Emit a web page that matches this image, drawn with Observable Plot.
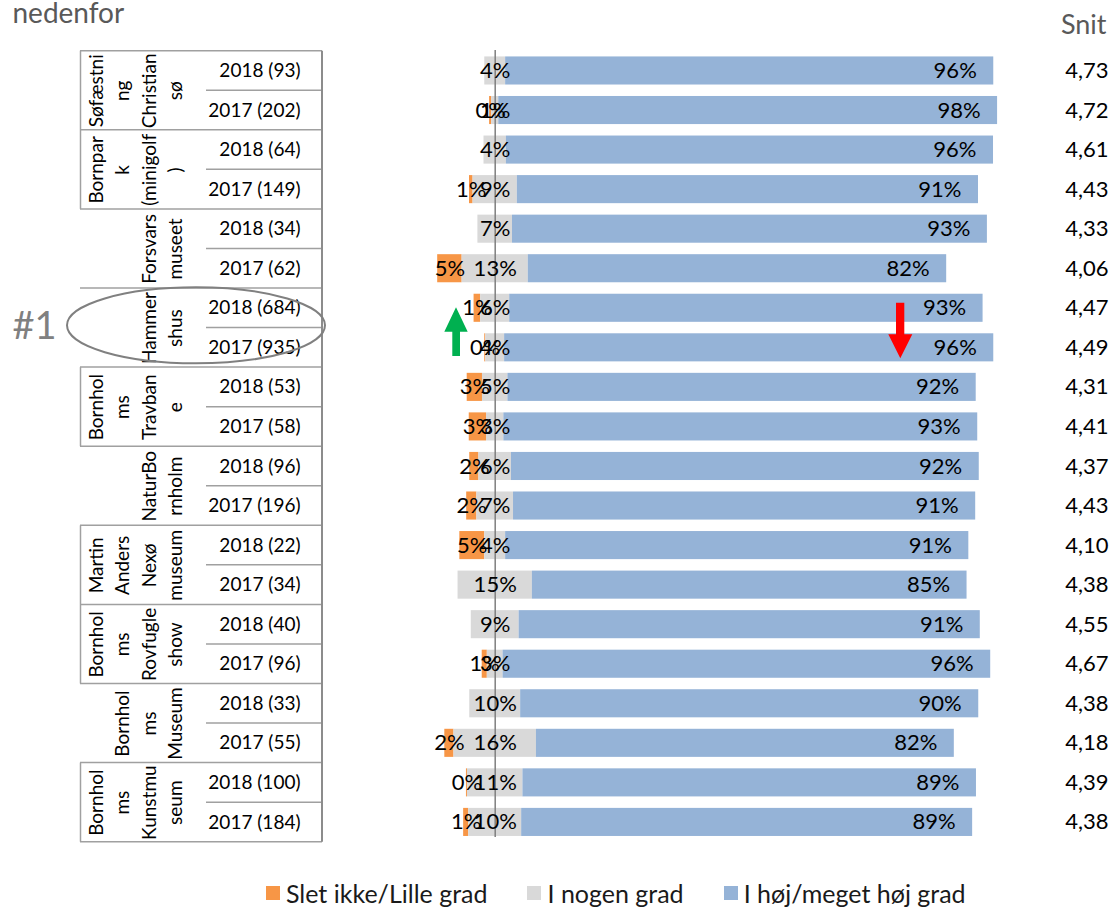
<!DOCTYPE html>
<html><head><meta charset="utf-8">
<script src="https://cdn.jsdelivr.net/npm/d3@7"></script>
<script src="https://cdn.jsdelivr.net/npm/@observablehq/plot@0.6"></script>
<style>
body{margin:0;background:#fff;font-family:Lato,sans-serif;}
#chart{position:relative;width:1114px;height:907px;overflow:hidden;}
#legend{position:absolute;left:266px;top:876px;}
.lg-swatches{font-family:Lato,sans-serif !important;font-size:25px !important;color:#1a1a1a;margin:0 !important;}
.lg-swatch{margin-right:40px !important;}
.lg-swatch > svg{margin-right:6px !important;}
</style></head><body><div id="chart"><div id="legend"></div></div>
<script>
// ---- data ----
const groupLines = [
  ["Søfæstni","ng","Christian","sø"],
  ["Bornpar","k","(minigolf",")"],
  ["Forsvars","museet"],
  ["Hammer","shus"],
  ["Bornhol","ms","Travban","e"],
  ["NaturBo","rnholm"],
  ["Martin","Anders","Nexø","museum"],
  ["Bornhol","ms","Rovfugle","show"],
  ["Bornhol","ms","Museum"],
  ["Bornhol","ms","Kunstmu","seum"]
];
const rowLabels = ["2018 (93)","2017 (202)","2018 (64)","2017 (149)","2018 (34)","2017 (62)","2018 (684)","2017 (935)","2018 (53)","2017 (58)","2018 (96)","2017 (196)","2018 (22)","2017 (34)","2018 (40)","2017 (96)","2018 (33)","2017 (55)","2018 (100)","2017 (184)"];
const slet  = [0, 0.4, 0, 0.7, 0, 4.8, 1.3, 0.2, 3.0, 3.4, 1.8, 2.0, 4.9, 0, 0, 1.0, 0, 1.8, 0.2, 1.0];
const nogen = [4.1, 1.4, 4.4, 8.7, 6.8, 13.0, 5.7, 3.7, 5.0, 3.4, 6.4, 7.2, 4.1, 14.6, 9.4, 3.1, 10.0, 16.2, 10.9, 10.4];
const hoj   = [95.9, 98.0, 95.7, 90.6, 93.3, 82.2, 93.0, 96.1, 92.0, 93.1, 91.9, 90.8, 91.0, 85.4, 90.6, 95.8, 90.0, 82.1, 89.1, 88.6];
const snit  = [4.73, 4.72, 4.61, 4.43, 4.33, 4.06, 4.47, 4.49, 4.31, 4.41, 4.37, 4.43, 4.10, 4.38, 4.55, 4.67, 4.38, 4.18, 4.39, 4.38];
const seriesNames = ["Slet ikke/Lille grad","I nogen grad","I høj/meget høj grad"];
const seriesColors = ["#F79646","#D9D9D9","#95B3D7"];

// ---- build tables ----
const rows = rowLabels.map((d,i)=>String(i));
const segs = [];
rowLabels.forEach((l,i)=>{
  const o = slet[i], g = nogen[i], b = hoj[i];
  segs.push({row: rows[i], s: seriesNames[0], x1: -g/2 - o, x2: -g/2, v: o});
  segs.push({row: rows[i], s: seriesNames[1], x1: -g/2, x2: g/2, v: g});
  segs.push({row: rows[i], s: seriesNames[2], x1: g/2, x2: g/2 + b, v: b});
});
const groupText = [];
groupLines.forEach((gl, gi) => gl.forEach((t, li) => groupText.push({t, row: String(2*gi), off: gl.length - 1 - li})));
const pct = d => Math.round(d.v) + "%";
const k = 5.09, x0 = 494.7;
const step = (841.7 - 50.7) / rows.length;

const plot = Plot.plot({
  width: 1114, height: 868,
  marginLeft: 0, marginRight: 0, marginTop: 50, marginBottom: 31,
  x: {domain: [-20, 100], range: [x0 - 20*k, x0 + 100*k], axis: null},
  y: {type: "band", domain: rows, range: [50.7, 841.7], paddingInner: 0.29, paddingOuter: 0.145, round: false, axis: null},
  color: {domain: seriesNames, range: seriesColors},
  style: {fontFamily: "Lato, sans-serif", fontSize: "22px", color: "#000", background: "#fff"},
  marks: [
    Plot.barX(segs.filter(d => d.v > 0), {x1: "x1", x2: "x2", y: "row", fill: "s"}),
    Plot.ruleX([0], {stroke: "#7f7f7f", strokeWidth: 1.5}),
    Plot.text(segs.filter(d => d.s === seriesNames[0] && d.v > 0), {x: d => (d.x1 + d.x2)/2, y: "row", text: pct, fontSize: 22, fill: "#000"}),
    Plot.text(segs.filter(d => d.s === seriesNames[1]), {x: 0, y: "row", text: pct, fontSize: 22, fill: "#000"}),
    Plot.text(segs.filter(d => d.s === seriesNames[2]), {x: "x2", y: "row", text: pct, fontSize: 22, fill: "#000", textAnchor: "end", dx: -17}),
    Plot.text(rowLabels, {y: (d,i) => rows[i], frameAnchor: "left", dx: 300, textAnchor: "end", fontSize: 19, fill: "#000"}),
    ...[0,1,2,3].map(off => Plot.text(groupText.filter(d => d.off === off), {y: "row", text: "t", dy: step/2, frameAnchor: "left", dx: 175.5 - 26.3*off, rotate: -90, textAnchor: "middle", lineAnchor: "middle", fontSize: 19, fill: "#000"})),
    Plot.text(snit, {y: (d,i) => rows[i], frameAnchor: "right", dx: -6, textAnchor: "end", text: d => d.toFixed(2).replace(".", ","), fontSize: 22, fill: "#000"}),
    Plot.text(["Snit"], {frameAnchor: "top-right", dx: -8, dy: -17, textAnchor: "end", lineAnchor: "bottom", fontSize: 27, fill: "#595959"}),
    Plot.text(["nedenfor"], {frameAnchor: "top-left", dx: 12, dy: -28, textAnchor: "start", lineAnchor: "bottom", fontSize: 28, fill: "#595959"}),
    Plot.text(["#1"], {frameAnchor: "top-left", dx: 12, dy: 288, textAnchor: "start", lineAnchor: "bottom", fontSize: 38, fill: "#808080"})
  ]
});
document.getElementById("chart").insertBefore(plot, document.getElementById("legend"));

// ---- table frame, ellipse, arrows ----
const ys = plot.scale("y");
const bw = ys.bandwidth != null ? ys.bandwidth : step * 0.71;
const rowTop = i => ys.apply(rows[i]) + bw/2 - step/2;
const rowBot = i => ys.apply(rows[i]) + bw/2 + step/2;
const svg = d3.select(plot);
const g = svg.append("g").attr("stroke", "#a0a0a0").attr("stroke-width", 1.5).attr("fill", "none");
for (let i = 0; i < rows.length; i++) {
  if (i % 2 === 0) g.append("line").attr("x1", 80).attr("x2", 322).attr("y1", rowTop(i)).attr("y2", rowTop(i));
  else g.append("line").attr("x1", 206).attr("x2", 322).attr("y1", rowTop(i)).attr("y2", rowTop(i));
}
g.append("line").attr("x1", 80).attr("x2", 322).attr("y1", rowBot(rows.length-1)).attr("y2", rowBot(rows.length-1));
g.append("line").attr("x1", 322).attr("x2", 322).attr("y1", rowTop(0)).attr("y2", rowBot(rows.length-1)).attr("stroke", "#8c8c8c").attr("stroke-width", 2);
groupLines.forEach((gl, gi) => {
  if (gl.length === 4) g.append("line").attr("x1", 80.5).attr("x2", 80.5).attr("y1", rowTop(2*gi)).attr("y2", rowBot(2*gi+1));
});
svg.append("ellipse").attr("cx", 196).attr("cy", 325.3).attr("rx", 129).attr("ry", 38)
  .attr("fill", "none").attr("stroke", "#808080").attr("stroke-width", 2);
svg.append("path").attr("d", "M456,307.3 L467.7,331.7 L460,331.7 L460,356 L452.3,356 L452.3,331.7 L444.3,331.7 Z").attr("fill", "#00B050");
svg.append("path").attr("d", "M896,302.7 L904.3,302.7 L904.3,334.3 L912.3,334.3 L900.3,358.3 L888.3,334.3 L896,334.3 Z").attr("fill", "#FF0000");

// ---- legend ----
const leg = plot.legend("color", {className: "lg", swatchSize: 14});
document.getElementById("legend").appendChild(leg);
</script>
</body></html>
